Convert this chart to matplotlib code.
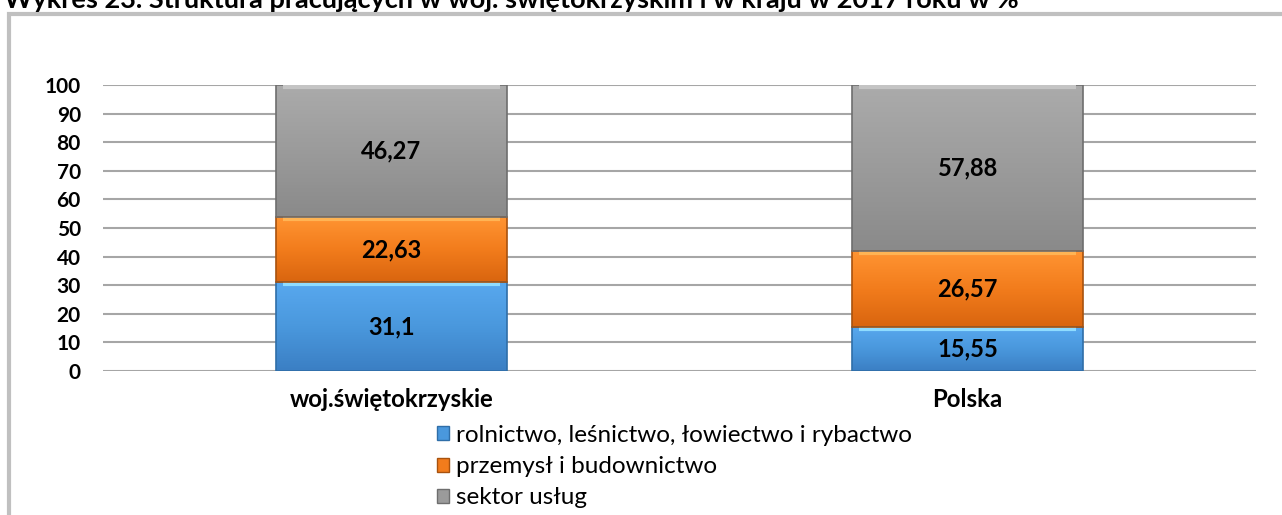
import matplotlib.pyplot as plt
from matplotlib.patches import Rectangle, Patch
from matplotlib.colors import LinearSegmentedColormap
import numpy as np

plt.rcParams['font.family'] = ['Lato', 'DejaVu Sans']

regions = ["woj.świętokrzyskie", "Polska"]
sectors = ["rolnictwo, leśnictwo, łowiectwo i rybactwo",
           "przemysł i budownictwo",
           "sektor usług"]
agri = [31.1, 15.55]
industry = [22.63, 26.57]
services = [46.27, 57.88]
labels = [["31,1", "15,55"], ["22,63", "26,57"], ["46,27", "57,88"]]
yticks = list(range(0, 101, 10))

# gradient colours (bottom -> top) plus edge and top highlight
grads = [["#3b7fc4", "#4a98dd", "#58a8ee"],
         ["#d9650f", "#f27c1c", "#ff9432"],
         ["#8a8a8a", "#9b9b9b", "#ababab"]]
colors = ["#4a98dd", "#f27c1c", "#9b9b9b"]
edges = ["#2f6ea8", "#a8520e", "#6e6e6e"]
highlights = ["#8fdcff", "#ffb454", "#c4c4c4"]

fig = plt.figure(figsize=(12.82, 5.15), dpi=100)
W, H = 1282, 515

# grey frame, cut off on right and bottom
fig.patches.append(Rectangle((9 / W, -0.1), 1.2, 1 - 13.5 / H + 0.1,
                             transform=fig.transFigure, fill=False,
                             edgecolor="#c0c0c0", linewidth=3))
fig.text(4 / W, 1 - 8 / H,
         "Wykres 23. Struktura pracujących w woj. świętokrzyskim i w kraju w 2017 roku w %",
         fontsize=19.5, fontweight="bold", ha="left", va="baseline")

ax = fig.add_axes([103 / W, 1 - 371 / H, (1256 - 103) / W, (371 - 85) / H])
x = np.arange(len(regions))
width = 0.4
bottom = np.zeros(len(regions))
for vals, g, c, e, hl, lab in zip([agri, industry, services], grads, colors, edges, highlights, labels):
    cmap = LinearSegmentedColormap.from_list("g", g)
    grad = np.linspace(0, 1, 64).reshape(-1, 1)
    for i in range(len(x)):
        b, top = bottom[i], bottom[i] + vals[i]
        ax.imshow(grad, cmap=cmap, origin="lower", aspect="auto", zorder=3,
                  extent=(x[i] - width / 2, x[i] + width / 2, b, top))
        ax.add_patch(Rectangle((x[i] - width / 2, b), width, vals[i], fill=False,
                               edgecolor=e, linewidth=1.2, zorder=4))
        ax.plot([x[i] - width / 2 + 0.012, x[i] + width / 2 - 0.012], [top - 0.7, top - 0.7],
                color=hl, lw=3, zorder=4, solid_capstyle="butt")
        ax.text(x[i], b + vals[i] / 2, lab[i], ha="center", va="center",
                fontsize=17, fontweight="bold", zorder=5)
    bottom += np.array(vals)

ax.set_xlim(-0.5, 1.5)
ax.set_ylim(0, 100)
ax.set_yticks(yticks)
ax.set_yticklabels([str(t) for t in yticks], fontsize=15, fontweight="bold")
ax.set_xticks(x)
ax.set_xticklabels(regions, fontsize=17.3, fontweight="bold")
ax.tick_params(axis="both", length=0)
ax.tick_params(axis="y", pad=16)
ax.tick_params(axis="x", pad=12)
ax.grid(axis="y", color="#a6a6a6", linewidth=1.5, zorder=0)
for s in ax.spines.values():
    s.set_visible(False)

handles = [Patch(facecolor=c, edgecolor=e) for c, e in zip(colors, edges)]
fig.legend(handles, sectors, loc="upper left", bbox_to_anchor=(437 / W, 1 - 425 / H),
           frameon=False, fontsize=17.5, handlelength=0.5, handleheight=0.5,
           handletextpad=0.3, labelspacing=0.42, borderaxespad=0, borderpad=0)

fig.savefig("out.png", dpi=100)
